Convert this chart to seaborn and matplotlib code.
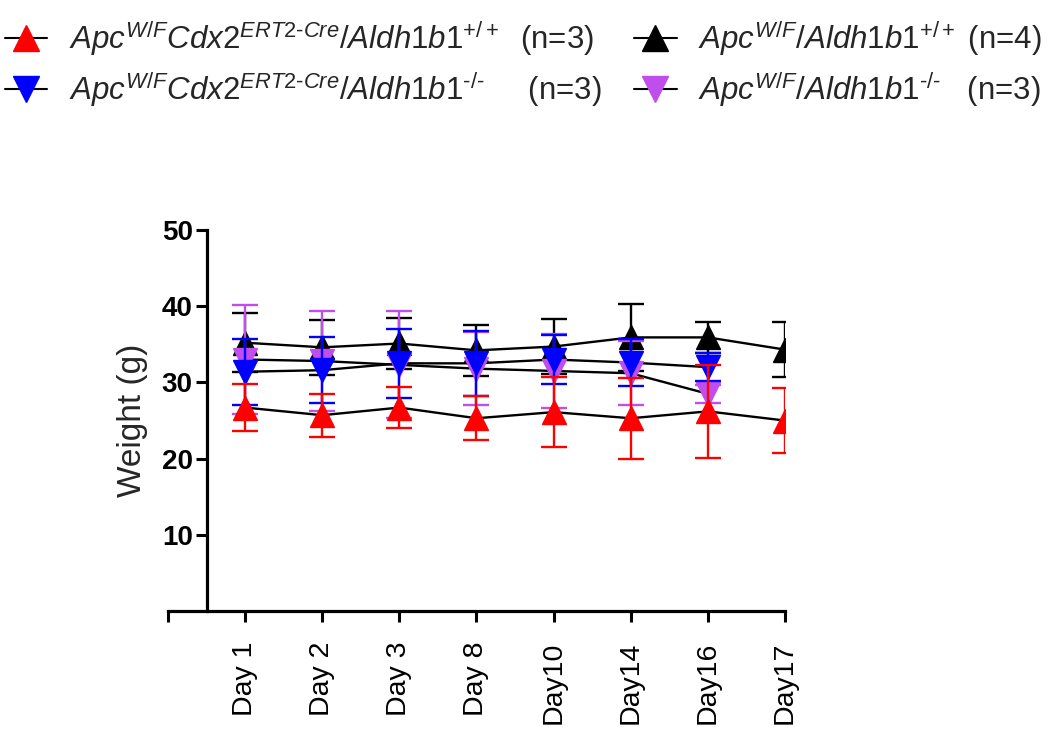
import numpy as np
import pandas as pd
import seaborn as sns
import matplotlib.pyplot as plt
from matplotlib.lines import Line2D

# Data (mean +/- SD, grams)
days = ['Day 1', 'Day 2', 'Day 3', 'Day 8', 'Day10', 'Day14', 'Day16', 'Day17']

red_mean = [26.7, 25.7, 26.7, 25.3, 26.1, 25.3, 26.2, 25.0]
red_sd = [3.1, 2.8, 2.7, 2.9, 4.6, 5.3, 6.1, 4.2]

blue_mean = [31.4, 31.6, 32.5, 32.5, 33.0, 32.6, 32.0, np.nan]
blue_sd = [4.3, 4.3, 4.5, 4.3, 3.2, 3.1, 1.8, np.nan]

black_mean = [35.2, 34.6, 35.1, 34.2, 34.7, 35.9, 35.9, 34.3]
black_sd = [3.9, 3.6, 3.3, 3.3, 3.6, 4.4, 2.0, 3.6]

purple_mean = [33.0, 32.8, 32.3, 31.8, 31.5, 31.2, 28.5, np.nan]
purple_sd = [7.2, 6.5, 7.0, 4.8, 4.8, 4.2, 1.2, np.nan]

labels = [
    r'$\mathit{Apc}^{W/F}\mathit{Cdx2}^{\mathit{ERT2}\text{-}\mathit{Cre}}/\mathit{Aldh1b1}^{+/+}$  (n=3)',
    r'$\mathit{Apc}^{W/F}\mathit{Cdx2}^{\mathit{ERT2}\text{-}\mathit{Cre}}/\mathit{Aldh1b1}^{\text{-/-}}$     (n=3)',
    r'$\mathit{Apc}^{W/F}/\mathit{Aldh1b1}^{+/+}$ (n=4)',
    r'$\mathit{Apc}^{W/F}/\mathit{Aldh1b1}^{\text{-/-}}$   (n=3)',
]
colors = ['#FF0000', '#0000FF', '#000000', '#C04EEC']
markers = ['^', 'v', '^', 'v']

sns.set_theme(style='ticks')
plt.rcParams['font.family'] = ['Liberation Sans', 'DejaVu Sans']
plt.rcParams['mathtext.fontset'] = 'custom'
plt.rcParams['mathtext.rm'] = 'Liberation Sans'
plt.rcParams['mathtext.it'] = 'Liberation Sans:italic'
plt.rcParams['mathtext.bf'] = 'Liberation Sans:bold'

rows = []
series = [(red_mean, red_sd), (blue_mean, blue_sd), (black_mean, black_sd), (purple_mean, purple_sd)]
for g, (m, s) in enumerate(series):
    for i, d in enumerate(days):
        rows.append({'group': g, 'pos': i + 1, 'day': d, 'mean': m[i], 'sd': s[i]})
df = pd.DataFrame(rows).dropna()

fig = plt.figure(figsize=(10.5, 7.32), dpi=100)
ax = fig.add_axes([0.16, 0.165, 0.5876, 0.521])

# connecting lines are black for every group
for g in [2, 3, 1, 0]:
    sub = df[df.group == g]
    sns.lineplot(data=sub, x='pos', y='mean', color='black', lw=1.7, ax=ax,
                 legend=False, zorder=2)

zorders = {2: 3, 3: 4, 1: 5, 0: 6}
for g in [2, 3, 1, 0]:
    sub = df[df.group == g]
    ax.errorbar(sub['pos'], sub['mean'], yerr=sub['sd'], fmt=markers[g], color=colors[g],
                ms=17, capsize=9.5, elinewidth=1.7, capthick=1.7, zorder=zorders[g])

# GraphPad-style axis: y spine sits half a category in from the x origin
ax.spines['left'].set_position(('data', 0.5))
ax.spines['right'].set_visible(False)
ax.spines['top'].set_visible(False)
for sp in ['left', 'bottom']:
    ax.spines[sp].set_linewidth(2.3)
    ax.spines[sp].set_color('black')

ax.set_xlim(0, 8)
ax.set_ylim(0, 50)
ax.set_xticks(range(0, 9))
ax.set_xticklabels([''] + days, rotation=90)
ax.set_yticks([10, 20, 30, 40, 50])
ax.set_yticklabels(['10', '20', '30', '40', '50'], fontweight='bold')
ax.set_xlabel('')
ax.set_ylabel('Weight (g)', fontsize=24)
ax.tick_params(axis='both', width=2.2, length=8, color='black', labelcolor='black')
ax.tick_params(axis='x', pad=14, labelsize=20.5)
ax.tick_params(axis='y', pad=2, labelsize=20)
ax.yaxis.set_label_coords(-0.033, 0.5)

handles = [Line2D([], [], color='black', lw=1.5, marker=markers[g], markersize=19,
                  markerfacecolor=colors[g], markeredgecolor=colors[g]) for g in range(4)]
fig.legend(handles, labels, ncol=2, loc='upper left', bbox_to_anchor=(0.0, 0.98),
           frameon=False, fontsize=22.5, handlelength=1.35, handletextpad=0.7,
           columnspacing=1.05, labelspacing=0.38, borderpad=0.15, borderaxespad=0.0)

fig.savefig('out.png', dpi=100)
